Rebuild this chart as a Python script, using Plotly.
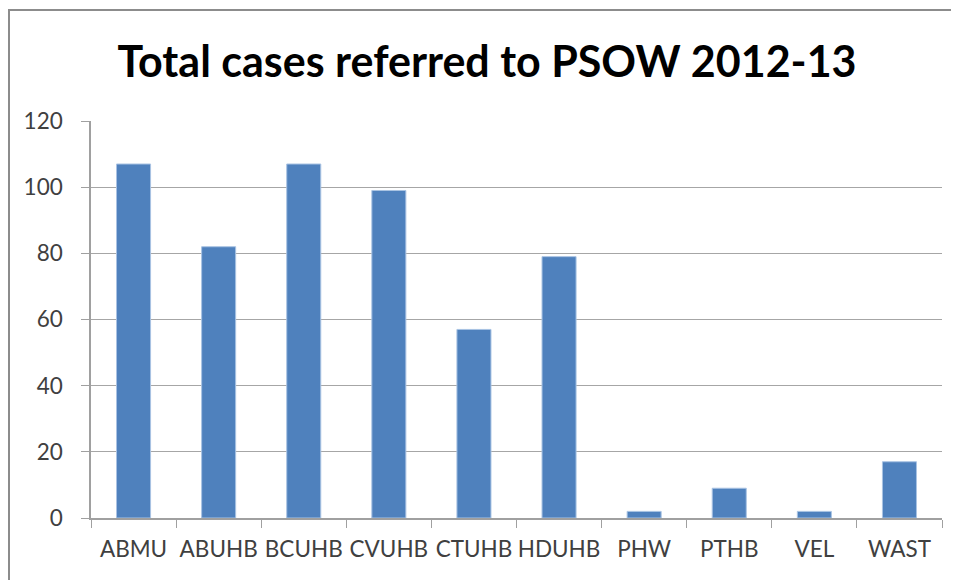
import plotly.graph_objects as go

categories = ["ABMU", "ABUHB", "BCUHB", "CVUHB", "CTUHB", "HDUHB", "PHW", "PTHB", "VEL", "WAST"]
cases = [107, 82, 107, 99, 57, 79, 2, 9, 2, 17]
y_ticks = [0, 20, 40, 60, 80, 100, 120]

# page body has an 8px margin; compensate so the plot lands where the reference has it
OFF = 8
W, H = 959, 580
ml, mt = 91 - OFF, 121 - OFF
pw, ph = 851, 397
mr = W - ml - pw
mb = H - mt - ph

def px_x(x):
    return (x - OFF - ml) / pw

def px_y(y):
    return (OFF + mt + ph - y) / ph

fig = go.Figure(go.Bar(
    x=categories, y=cases,
    marker=dict(color="#4F81BD", line=dict(color="#A9C3E3", width=1)),
))

fig.update_layout(
    width=W, height=H,
    margin=dict(l=ml, r=mr, t=mt, b=mb, autoexpand=False),
    paper_bgcolor="white", plot_bgcolor="white",
    bargap=0.6,
    showlegend=False,
    title=dict(text="<b>Total cases referred to PSOW 2012-13</b>",
               x=(487 - OFF) / W, xanchor="center", y=1 - (62 - OFF) / H, yanchor="middle",
               font=dict(family="Lato", size=43, color="black")),
    font=dict(family="Lato", size=22.5, color="#404040"),
    shapes=[dict(type="rect", xref="paper", yref="paper",
                 x0=px_x(9), x1=px_x(975), y0=px_y(600), y1=px_y(10),
                 line=dict(color="#8c8c8c", width=2), layer="below")],
)

fig.update_xaxes(
    type="category", tickson="boundaries", ticks="outside", ticklen=8,
    tickcolor="#a0a0a0", showline=True, linecolor="#a0a0a0", linewidth=1.5,
    showgrid=False, ticklabelstandoff=10, tickangle=0, automargin=False,
    tickfont=dict(family="Lato", size=22.5, color="#404040"),
)
fig.update_yaxes(
    range=[0, 120], tickvals=y_ticks, ticks="outside", ticklen=8,
    tickcolor="#a0a0a0", showline=True, linecolor="#a0a0a0", linewidth=1.5,
    showgrid=True, gridcolor="#a6a6a6", gridwidth=1.2, zeroline=False,
    ticklabelstandoff=14, automargin=False,
    tickfont=dict(family="Lato", size=22.5, color="#404040"),
)

fig.write_html("out.html")
